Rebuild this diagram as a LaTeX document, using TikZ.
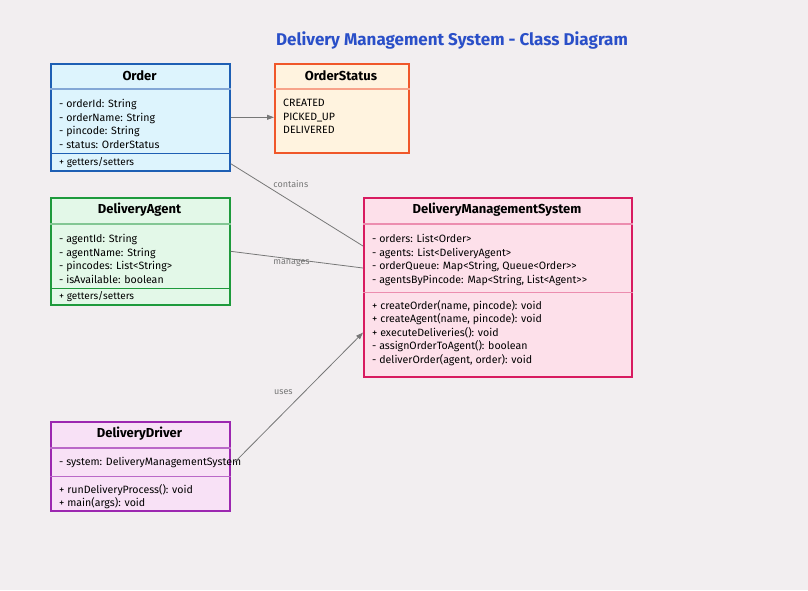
\documentclass[tikz,border=0pt]{standalone}
\usepackage{fontspec}
\setmainfont{Fira Sans}
\usetikzlibrary{arrows.meta,positioning}

\definecolor{bgcol}{HTML}{F2EEF0}
\definecolor{titleblue}{HTML}{2A4FC8}
\definecolor{linkgray}{HTML}{777777}
\definecolor{ordfill}{HTML}{DDF4FD}
\definecolor{ordline}{HTML}{1E5FB4}
\definecolor{stafill}{HTML}{FFF3DF}
\definecolor{staline}{HTML}{F0572A}
\definecolor{agtfill}{HTML}{E3F8E8}
\definecolor{agtline}{HTML}{1E9A3C}
\definecolor{dmsfill}{HTML}{FDE0EA}
\definecolor{dmsline}{HTML}{D81B60}
\definecolor{drvfill}{HTML}{F8E1F6}
\definecolor{drvline}{HTML}{9C27B0}

\begin{document}
\begin{tikzpicture}[x=1pt,y=-1pt,
    classbox/.style={rectangle, line width=1.6pt, anchor=north west, inner sep=0pt},
    hdr/.style={font=\fontsize{13}{15}\selectfont\bfseries},
    body/.style={anchor=north west, align=left, inner sep=0pt, font=\fontsize{10.6}{13.6}\selectfont},
    sep/.style={line width=1.2pt},
    link/.style={draw=linkgray, line width=0.8pt},
    lbl/.style={text=linkgray, font=\fontsize{9}{10}\selectfont}]
    \fill[bgcol] (0,0) rectangle (808,590);
    \useasboundingbox (0,0) rectangle (808,590);
    \node[font=\fontsize{17}{20}\selectfont\bfseries, text=titleblue] (title) at (452,40) {Delivery Management System - Class Diagram};
    % Order
    \node[classbox, draw=ordline, fill=ordfill, minimum width=179pt, minimum height=107pt] (order) at (50,63) {};
    \node[hdr] (order-name) at (139.5,76) {Order};
    \draw[sep, ordline!55] ([yshift=-26pt]order.north west) -- ([yshift=-26pt]order.north east);
    \draw[sep, ordline] ([yshift=18pt]order.south west) -- ([yshift=18pt]order.south east);
    \node[body] (order-attr) at (59,99) {- orderId: String\\- orderName: String\\- pincode: String\\- status: OrderStatus};
    \node[body, font=\fontsize{10}{12}\selectfont] (order-ops) at (59,157.5) {+ getters/setters};
    % OrderStatus
    \node[classbox, draw=staline, fill=stafill, minimum width=134pt, minimum height=89pt] (status) at (274,63) {};
    \node[hdr] (status-name) at (341,76) {OrderStatus};
    \draw[sep, staline!55] ([yshift=-26pt]status.north west) -- ([yshift=-26pt]status.north east);
    \node[body] (status-vals) at (283,99) {CREATED\\PICKED\_UP\\DELIVERED};
    % DeliveryAgent
    \node[classbox, draw=agtline, fill=agtfill, minimum width=179pt, minimum height=107pt] (agent) at (50,197) {};
    \node[hdr] (agent-name) at (139.5,210) {DeliveryAgent};
    \draw[sep, agtline!55] ([yshift=-27pt]agent.north west) -- ([yshift=-27pt]agent.north east);
    \draw[sep, agtline] ([yshift=17pt]agent.south west) -- ([yshift=17pt]agent.south east);
    \node[body] (agent-attr) at (59,234) {- agentId: String\\- agentName: String\\- pincodes: List<String>\\- isAvailable: boolean};
    \node[body, font=\fontsize{10}{12}\selectfont] (agent-ops) at (59,291.5) {+ getters/setters};
    % DeliveryManagementSystem
    \node[classbox, draw=dmsline, fill=dmsfill, minimum width=268pt, minimum height=179pt] (dms) at (363,197) {};
    \node[hdr] (dms-name) at (497,210) {DeliveryManagementSystem};
    \draw[sep, dmsline!50] ([yshift=-27pt]dms.north west) -- ([yshift=-27pt]dms.north east);
    \draw[sep, dmsline!50] ([yshift=85pt]dms.south west) -- ([yshift=85pt]dms.south east);
    \node[body] (dms-attr) at (372,234) {- orders: List<Order>\\- agents: List<DeliveryAgent>\\- orderQueue: Map<String, Queue<Order>{}>\\- agentsByPincode: Map<String, List<Agent>{}>};
    \node[body] (dms-ops) at (372,300) {+ createOrder(name, pincode): void\\+ createAgent(name, pincode): void\\+ executeDeliveries(): void\\- assignOrderToAgent(): boolean\\- deliverOrder(agent, order): void};
    % DeliveryDriver
    \node[classbox, draw=drvline, fill=drvfill, minimum width=179pt, minimum height=89pt] (driver) at (50,421) {};
    \node[hdr] (driver-name) at (139.5,434) {DeliveryDriver};
    \draw[sep, drvline!70] ([yshift=-27pt]driver.north west) -- ([yshift=-27pt]driver.north east);
    \draw[sep, drvline!70] ([yshift=35pt]driver.south west) -- ([yshift=35pt]driver.south east);
    \node[body] (driver-attr) at (59,457) {- system: DeliveryManagementSystem};
    \node[body] (driver-ops) at (59,484) {+ runDeliveryProcess(): void\\+ main(args): void};
    % connectors
    \draw[link, -{Triangle[length=7pt,width=5pt]}] (order.east) -- (order.east -| status.west);
    \draw[link] ([yshift=8pt]order.south east) -- ([yshift=-49pt]dms.north west)
        node[lbl, pos=0.47, above=11pt, xshift=-2pt] {contains};
    \draw[link] (agent.east) -- ([yshift=-71pt]dms.north west)
        node[lbl, pos=0.46, yshift=-4pt] {manages};
    \draw[link, -{Triangle[length=7pt,width=5pt]}] ([shift={(4pt,4pt)}]driver.east) -- ([yshift=45pt]dms.south west)
        node[lbl, pos=0.38, xshift=0pt, yshift=21pt] {uses};
\end{tikzpicture}
\end{document}
